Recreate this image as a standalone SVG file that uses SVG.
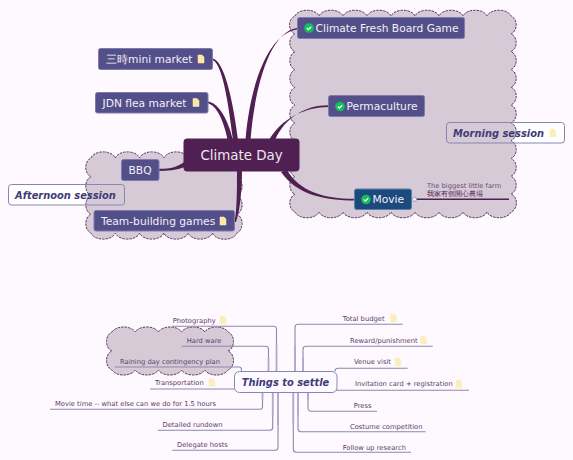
<svg xmlns="http://www.w3.org/2000/svg" width="573" height="460" viewBox="0 0 573 460">
<style>
text{font-family:"DejaVu Sans",Verdana,sans-serif}
.cloud{fill:#d6cad7;stroke:#5a3560;stroke-width:1;stroke-dasharray:2.5 1}
.n{fill:#534f88;stroke:#7f7bb0;stroke-width:1}
.nt{fill:#f3eef8;font-size:10.7px}
.call{fill:none;stroke:#8a84b4;stroke-width:1}
.callt{fill:#3f3c78;font-size:9.9px;font-weight:bold;font-style:italic}
.br{fill:#4f2051;stroke:none}
.l{fill:none;stroke:#8d88ae;stroke-width:1.1}
.v{fill:none;stroke:#aeaac8;stroke-width:1.7}
.lt{fill:#5d3d68;font-size:6.75px}
</style>
<defs>
<g id="note"><path d="M0 0h4l2 2v6h-6z" fill="#fde6a2" stroke="#fff4cf" stroke-width=".5"/></g>
<g id="pale"><path d="M0 0h4l2 2v6h-6z" fill="#fbeeb9" stroke="#fdf3cf" stroke-width=".5"/></g>
<g id="check"><circle r="4.800" fill="#12c05a"/><path d="M-2.200 0l1.600 1.600 2.800-2.800" fill="none" stroke="#fff" stroke-width="1.300"/></g>
</defs>
<rect width="573" height="460" fill="#fdf9fe"/>
<g id="callout-backs" fill="#fff">
<rect x="8.500" y="184.500" width="116" height="20.500" rx="3"/>
<rect x="446.500" y="122.500" width="118" height="20.500" rx="3"/>
</g>
<g id="boundaries">
<path class="cloud" d="M295 16a12.500 8 0 0 1 24 0a12.500 8 0 0 1 24 0a12.500 8 0 0 1 24 0a12.500 8 0 0 1 24 0a12.500 8 0 0 1 24 0a12.500 8 0 0 1 24 0a12.500 8 0 0 1 24 0a12.500 8 0 0 1 24 0a12.500 8 0 0 1 24 0a8 9.500 0 0 1 0 17.800a8 9.500 0 0 1 0 17.800a8 9.500 0 0 1 0 17.800a8 9.500 0 0 1 0 17.800a8 9.500 0 0 1 0 17.800a8 9.500 0 0 1 0 17.800a8 9.500 0 0 1 0 17.800a8 9.500 0 0 1 0 17.800a8 9.500 0 0 1 0 17.800a8 9.500 0 0 1 0 17.800a8 9.500 0 0 1 0 18a12.500 8 0 0 1 -24 0a12.500 8 0 0 1 -24 0a12.500 8 0 0 1 -24 0a12.500 8 0 0 1 -24 0a12.500 8 0 0 1 -24 0a12.500 8 0 0 1 -24 0a12.500 8 0 0 1 -24 0a12.500 8 0 0 1 -24 0a12.500 8 0 0 1 -24 0a8 9.500 0 0 1 0 -17.800a8 9.500 0 0 1 0 -17.800a8 9.500 0 0 1 0 -17.800a8 9.500 0 0 1 0 -17.800a8 9.500 0 0 1 0 -17.800a8 9.500 0 0 1 0 -17.800a8 9.500 0 0 1 0 -17.800a8 9.500 0 0 1 0 -17.800a8 9.500 0 0 1 0 -17.800a8 9.500 0 0 1 0 -17.800a8 9.500 0 0 1 0 -18z"/>
<path class="cloud" d="M91 158a12.500 8 0 0 1 24.300 0a12.500 8 0 0 1 24.300 0a12.500 8 0 0 1 24.300 0a12.500 8 0 0 1 24.300 0a12.500 8 0 0 1 24.300 0a12.500 8 0 0 1 24.400 0a8 10 0 0 1 0 18.750a8 10 0 0 1 0 18.750a8 10 0 0 1 0 18.750a8 10 0 0 1 0 18.750a12.500 8 0 0 1 -24.400 0a12.500 8 0 0 1 -24.300 0a12.500 8 0 0 1 -24.300 0a12.500 8 0 0 1 -24.300 0a12.500 8 0 0 1 -24.300 0a12.500 8 0 0 1 -24.300 0a8 10 0 0 1 0 -18.750a8 10 0 0 1 0 -18.750a8 10 0 0 1 0 -18.750a8 10 0 0 1 0 -18.750z"/>
<path class="cloud" d="M112 332a12.500 8 0 0 1 23.200 0a12.500 8 0 0 1 23.200 0a12.500 8 0 0 1 23.200 0a12.500 8 0 0 1 23.200 0a12.500 8 0 0 1 23.200 0a8 10 0 0 1 0 19a8 10 0 0 1 0 19a12.500 8 0 0 1 -23.200 0a12.500 8 0 0 1 -23.200 0a12.500 8 0 0 1 -23.200 0a12.500 8 0 0 1 -23.200 0a12.500 8 0 0 1 -23.200 0a8 10 0 0 1 0 -19a8 10 0 0 1 0 -19z"/>
</g>
<g id="connectors">
<path class="br" d="M212 58.300C224 59.500 233 100 238 140L233 140C228 100 222 62 212 60Z"/>
<path class="br" d="M207 101.300C219 102.500 228 120 233 140L227.700 140C224 122 217 105 207 103Z"/>
<path class="br" d="M298 27.700C270 31 255 85 250.500 140L245.500 140C250 85 268 33 298 29.300Z"/>
<path class="br" d="M329 105.300C305 105 285 118 275 140L269 140C282 118 305 107 329 107Z"/>
<path class="br" d="M355 198.800C325 199 300 192 287 170L281 172C297 195 325 200.500 355 200.500Z"/>
<path class="br" d="M158 168.800C170 169 178 167 185 161.500L185 167C176 170 168 171 158 171Z"/>
<path class="br" d="M234.500 222C237 210 237 190 237 170L242 170C242 190 240 210 236 222Z"/>
<path d="M416 199.300H509" fill="none" stroke="#4f2051" stroke-width="1.400"/>
<path class="l" d="M172 326.300H273.500a3 3 0 0 1 3 3V372"/>
<path class="l" d="M181.700 346.300H265.500a3 3 0 0 1 3 3V372"/>
<path class="l" d="M115 367H239a2.500 2.500 0 0 1 2.500 2.500V372"/>
<path class="l" d="M150 389H235"/>
<path class="l" d="M50 409.300H260a2.500 2.500 0 0 0 2.500-2.500V392"/>
<path class="l" d="M157.700 430.300H270a2.700 2.700 0 0 0 2.700-2.700V392"/>
<path class="l" d="M172.300 450.300H275.300a2.700 2.700 0 0 0 2.700-2.700V392"/>
<path class="l" d="M402.700 324.300H298a3 3 0 0 0-3 3V372"/>
<path class="l" d="M432.700 346.300H306a3 3 0 0 0-3 3V372"/>
<path class="l" d="M407.700 368.300H338a3 3 0 0 0-3 3"/>
<path class="l" d="M469 390.300H336"/>
<path class="l" d="M377 411.300H311a3 3 0 0 1-3-3V392"/>
<path class="l" d="M425.700 431.700H301a3 3 0 0 1-3-3V392"/>
<path class="l" d="M411 452.300H296.300a3 3 0 0 1-3-3V392"/>
<path class="v" d="M276.500 345V372M268.500 358V372M262.500 392V400M272.700 392V415M278 392V425M295 345V372M303 358V372M308 392V400M298 392V415M293.300 392V425"/>
</g>
<g id="root"><rect x="183.500" y="138.500" width="116" height="33" rx="4" fill="#4f2051"/><text x="241.500" y="160" text-anchor="middle" font-size="13.400" fill="#f0e6f0">Climate Day</text></g>
<g id="n-mini"><rect class="n" x="98.500" y="48.500" width="114" height="21" rx="2"/><text class="nt" x="106" y="63" font-family="DejaVu Sans,Noto Sans CJK TC,sans-serif">三時mini market</text><use href="#note" x="198" y="55"/></g>
<g id="n-jdn"><rect class="n" x="95.500" y="92.500" width="112.500" height="20.500" rx="2"/><text class="nt" x="102.500" y="106.500">JDN flea market</text><use href="#note" x="193" y="98.500"/></g>
<g id="n-bbq"><rect class="n" x="121.500" y="159.500" width="37.500" height="21" rx="2"/><text class="nt" x="128.500" y="174">BBQ</text></g>
<g id="n-team"><rect class="n" x="94" y="210.500" width="140.500" height="20.500" rx="2"/><text class="nt" x="101" y="225">Team-building games</text><use href="#note" x="220" y="217"/></g>
<g id="n-fresh"><rect class="n" x="297.500" y="17.500" width="167" height="21" rx="2"/><use href="#check" x="309" y="28"/><text class="nt" x="315.500" y="32">Climate Fresh Board Game</text></g>
<g id="n-perma"><rect class="n" x="328.500" y="95.500" width="96" height="21" rx="2"/><use href="#check" x="340" y="106.500"/><text class="nt" x="346.500" y="110">Permaculture</text></g>
<g id="n-movie"><rect x="354.500" y="189" width="57" height="20.500" rx="2" fill="#1d4a7d" stroke="#5b80a8"/><use href="#check" x="366" y="199.500"/><text class="nt" x="372.500" y="203">Movie</text><circle cx="414.500" cy="199.300" r="2" fill="#fff" stroke="#8d88ae" stroke-width=".8"/></g>
<g id="n-farm"><text x="427" y="187.500" font-size="6.700" fill="#6a4a78">The biggest little farm</text><text x="427" y="195.500" font-size="7" fill="#4f2051" font-family="Noto Sans CJK TC,sans-serif">我家有個開心農場</text></g>
<g id="n-afternoon"><rect class="call" x="8.500" y="184.500" width="116" height="20.500" rx="3"/><text class="callt" x="15" y="198.500">Afternoon session</text></g>
<g id="n-morning"><rect class="call" x="446.500" y="122.500" width="118" height="20.500" rx="3"/><text class="callt" x="453" y="136.500">Morning session</text><use href="#pale" x="550" y="129"/></g>
<g id="n-settle"><rect x="234.500" y="371.500" width="102.500" height="21" rx="5" fill="#fdfaff" stroke="#8a84b4"/><text class="callt" x="285.500" y="386" text-anchor="middle">Things to settle</text></g>
<g id="l-photo"><text class="lt" x="172.700" y="322.500">Photography</text><use href="#pale" x="220" y="316"/></g>
<g id="l-hard"><text class="lt" x="186.700" y="343">Hard ware</text></g>
<g id="l-rain"><text class="lt" x="120" y="363.500">Raining day contingency plan</text></g>
<g id="l-trans"><text class="lt" x="155" y="385">Transportation</text><use href="#pale" x="209" y="378.500"/></g>
<g id="l-movie"><text class="lt" x="55" y="405.500">Movie time -- what else can we do for 1.5 hours</text></g>
<g id="l-run"><text class="lt" x="162.500" y="427">Detailed rundown</text></g>
<g id="l-host"><text class="lt" x="177" y="447">Delegate hosts</text></g>
<g id="l-budget"><text class="lt" x="342.700" y="320.700">Total budget</text><use href="#pale" x="390.500" y="314"/></g>
<g id="l-reward"><text class="lt" x="350" y="342.700">Reward/punishment</text><use href="#pale" x="420.500" y="336"/></g>
<g id="l-venue"><text class="lt" x="354" y="364">Venue visit</text><use href="#pale" x="395" y="358"/></g>
<g id="l-invite"><text class="lt" x="355" y="386">Invitation card + registration</text><use href="#pale" x="456" y="380"/></g>
<g id="l-press"><text class="lt" x="353.700" y="408">Press</text></g>
<g id="l-costume"><text class="lt" x="350" y="429">Costume competition</text></g>
<g id="l-follow"><text class="lt" x="342.700" y="449.500">Follow up research</text></g>
</svg>
